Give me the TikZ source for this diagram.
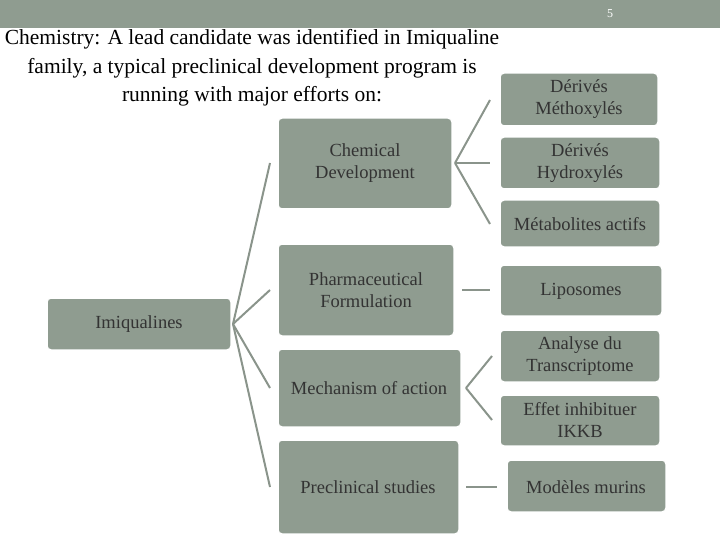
\documentclass[tikz,border=0pt]{standalone}
\usepackage{fontspec}
\setmainfont{Liberation Serif}
\begin{document}
\begin{tikzpicture}[x=1pt,y=-1pt,
  bx/.style={draw=white,line width=1.5pt,fill=boxc,rounded corners=4pt,inner sep=0pt},
  lab/.style={font=\fontsize{18.5}{22}\selectfont,align=center,text=black!80},
  ln/.style={draw=linec,line width=2pt}]
\definecolor{boxc}{HTML}{8F9C90}
\definecolor{linec}{HTML}{8A948B}
\useasboundingbox (0,0) rectangle (720,540);
\fill[boxc] (0,0) rectangle (720,28);
\node[text=white,font=\fontsize{12}{14}\selectfont] (pg) at (610,14) {5};
\node[font=\fontsize{21.5}{28.5}\selectfont,align=center] (title) at (252,68)
 {Chemistry: A lead candidate was identified in Imiqualine\\family, a typical preclinical development program is\\running with major efforts on:};
% boxes
\path[bx] (47,298) rectangle (231,350); \node[lab] (imi) at (139,324) {Imiqualines};
\path[bx] (278,118) rectangle (452,209); \node[lab] (chem) at (365,163) {Chemical\\Development};
\path[bx] (278,244) rectangle (454,336); \node[lab] (pharm) at (366,290) {Pharmaceutical\\Formulation};
\path[bx] (278,349) rectangle (461,427); \node[lab] (mech) at (369,388) {Mechanism of action};
\path[bx] (278,440) rectangle (459,534); \node[lab] (pre) at (368,487) {Preclinical studies};
\path[bx] (500,73) rectangle (658,126); \node[lab] (d1) at (579,99) {Dérivés\\Méthoxylés};
\path[bx] (500,137) rectangle (660,189); \node[lab] (d2) at (580,163) {Dérivés\\Hydroxylés};
\path[bx] (500,200) rectangle (660,247); \node[lab] (d3) at (580,224) {Métabolites actifs};
\path[bx] (500,265) rectangle (662,316); \node[lab] (lip) at (581,291) {Liposomes};
\path[bx] (500,330) rectangle (660,382); \node[lab] (tr) at (580,356) {Analyse du\\Transcriptome};
\path[bx] (500,395) rectangle (660,446); \node[lab] (ik) at (580,420) {Effet inhibituer\\IKKB};
\path[bx] (507,460) rectangle (666,512); \node[lab] (mm) at (586,487) {Modèles murins};
% connectors
\coordinate (s) at (233,324);
\coordinate (c1) at (270,163); \coordinate (c2) at (270,290);
\coordinate (c3) at (270,388); \coordinate (c4) at (270,487);
\draw[ln] (s) -- (c1); \draw[ln] (s) -- (c2); \draw[ln] (s) -- (c3); \draw[ln] (s) -- (c4);
\coordinate (a) at (455,163);
\coordinate (a1) at (490,100); \coordinate (a2) at (490,163); \coordinate (a3) at (490,224);
\draw[ln] (a) -- (a1); \draw[ln] (a) -- (a2); \draw[ln] (a) -- (a3);
\coordinate (b) at (462,290); \coordinate (b1) at (490,290); \draw[ln] (b) -- (b1);
\coordinate (m) at (466,388); \coordinate (m1) at (492,356); \coordinate (m2) at (492,420);
\draw[ln] (m) -- (m1); \draw[ln] (m) -- (m2);
\coordinate (p) at (466,487); \coordinate (p1) at (497,487); \draw[ln] (p) -- (p1);
\end{tikzpicture}
\end{document}
